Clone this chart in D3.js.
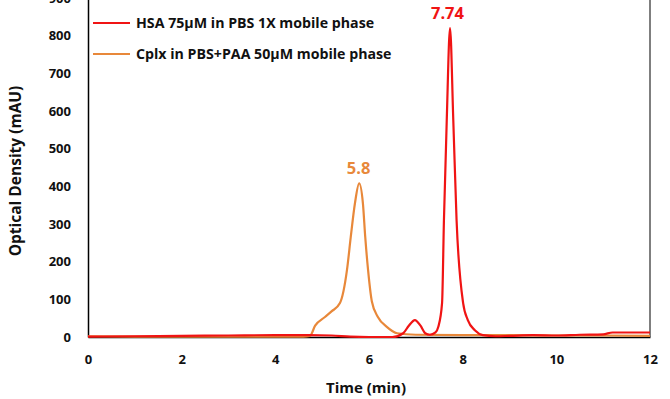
<!DOCTYPE html>
<html>
<head>
<meta charset="utf-8">
<script src="https://cdn.jsdelivr.net/npm/d3@7"></script>
<style>
  body { margin: 0; background: #fff; }
  text { font-family: "Open Sans", Lato, sans-serif; font-weight: bold; }
</style>
</head>
<body>
<div id="chart"></div>
<script>
// chromatogram values (time in min, optical density in mAU)
const hsaTime = [0, 1, 2, 3, 4, 4.7, 5.2, 5.6, 6.0, 6.5, 6.73, 6.85, 6.98, 7.1, 7.2, 7.3, 7.42, 7.48, 7.56, 7.60, 7.66, 7.73, 7.80, 7.87, 8.01, 8.11, 8.26, 8.43, 8.7, 9.0, 9.5, 10.0, 10.5, 11.0, 11.2, 11.6, 12];
const hsaValue = [1, 2, 3, 4, 5, 5, 4, 1, 0, 0, 10, 30, 45, 30, 10, 6, 12, 27, 90, 310, 575, 820, 575, 310, 90, 45, 18, 5, 2, 3, 5, 4, 6, 7, 12, 12, 12];

const cplxTime = [0, 1, 2, 3, 4, 4.6, 4.74, 4.85, 5.06, 5.2, 5.38, 5.53, 5.61, 5.70, 5.79, 5.87, 5.92, 5.98, 6.06, 6.19, 6.38, 6.6, 7.0, 8.0, 9.0, 10.0, 11.0, 12];
const cplxValue = [2, 1, 1, 1, 1, 1, 3, 30, 53, 68, 90, 178, 265, 355, 408, 355, 265, 178, 95, 53, 27, 10, 6, 5, 5, 4, 4, 3];

const xTicks = [0, 2, 4, 6, 8, 10, 12];
const yTicks = [0, 100, 200, 300, 400, 500, 600, 700, 800, 900];

const seriesNames = ["HSA 75\u00b5M in PBS 1X mobile phase", "Cplx in PBS+PAA 50\u00b5M mobile phase"];
const seriesColors = ["#f01414", "#e8883a"];
const peakLabels = ["7.74", "5.8"];
const peakTimes = [7.74, 5.8];
const peakValues = [820, 408];

const width = 670, height = 399;
const margin = { top: -2, right: 20, bottom: 62, left: 88 };

const svg = d3.select("#chart").append("svg")
  .attr("width", width)
  .attr("height", height);

const x = d3.scaleLinear().domain([0, 12]).range([margin.left, width - margin.right]);
const y = d3.scaleLinear().domain([0, 900]).range([height - margin.bottom, margin.top]);

// right border of plot area
svg.append("line")
  .attr("x1", x(12)).attr("x2", x(12))
  .attr("y1", y(900)).attr("y2", y(0))
  .attr("stroke", "#555").attr("stroke-width", 1.5);

// y axis
const yAxis = svg.append("g")
  .attr("transform", `translate(${margin.left},0)`)
  .call(d3.axisLeft(y).tickValues(yTicks).tickSize(0).tickPadding(17));
yAxis.select(".domain").attr("stroke", "#000").attr("stroke-width", 1.5);
yAxis.selectAll("text").attr("font-size", 13).attr("fill", "#111");

// x axis
const xAxis = svg.append("g")
  .attr("transform", `translate(0,${y(0)})`)
  .call(d3.axisBottom(x).tickValues(xTicks).tickSize(0).tickPadding(18));
xAxis.select(".domain").attr("stroke", "#000").attr("stroke-width", 1.5);
xAxis.selectAll("text").attr("font-size", 13).attr("fill", "#111");

// axis titles
svg.append("text")
  .attr("transform", `translate(21,${(y(0) + 5) / 2}) rotate(-90)`)
  .attr("text-anchor", "middle")
  .attr("font-size", 15.5)
  .attr("fill", "#111")
  .text("Optical Density (mAU)");

svg.append("text")
  .attr("x", 366).attr("y", 393)
  .attr("text-anchor", "middle")
  .attr("font-size", 15)
  .attr("fill", "#111")
  .text("Time (min)");

// lines
const line = d3.line()
  .x((d) => x(d[0]))
  .y((d) => y(d[1]))
  .curve(d3.curveMonotoneX);

const series = [
  d3.zip(cplxTime, cplxValue),
  d3.zip(hsaTime, hsaValue),
];
const seriesColorOrder = [seriesColors[1], seriesColors[0]];

series.forEach((s, i) => {
  svg.append("path")
    .datum(s)
    .attr("fill", "none")
    .attr("stroke", seriesColorOrder[i])
    .attr("stroke-width", 2.2)
    .attr("stroke-linejoin", "round")
    .attr("d", line);
});

// peak labels
peakLabels.forEach((lab, i) => {
  svg.append("text")
    .attr("x", x(peakTimes[i]) - (i === 0 ? 3 : 1))
    .attr("y", y(peakValues[i]) - 9)
    .attr("text-anchor", "middle")
    .attr("font-size", 16.5)
    .attr("fill", seriesColors[i])
    .text(lab);
});

// legend
const legend = svg.append("g").attr("transform", "translate(93,23)");
seriesNames.forEach((name, i) => {
  const row = legend.append("g").attr("transform", `translate(0,${i * 31})`);
  row.append("line")
    .attr("x1", 0).attr("x2", 37)
    .attr("stroke", seriesColors[i])
    .attr("stroke-width", 2.2);
  row.append("text")
    .attr("x", 43).attr("y", 5)
    .attr("font-size", 14.2)
    .attr("fill", "#111")
    .text(name);
});
</script>
</body>
</html>
